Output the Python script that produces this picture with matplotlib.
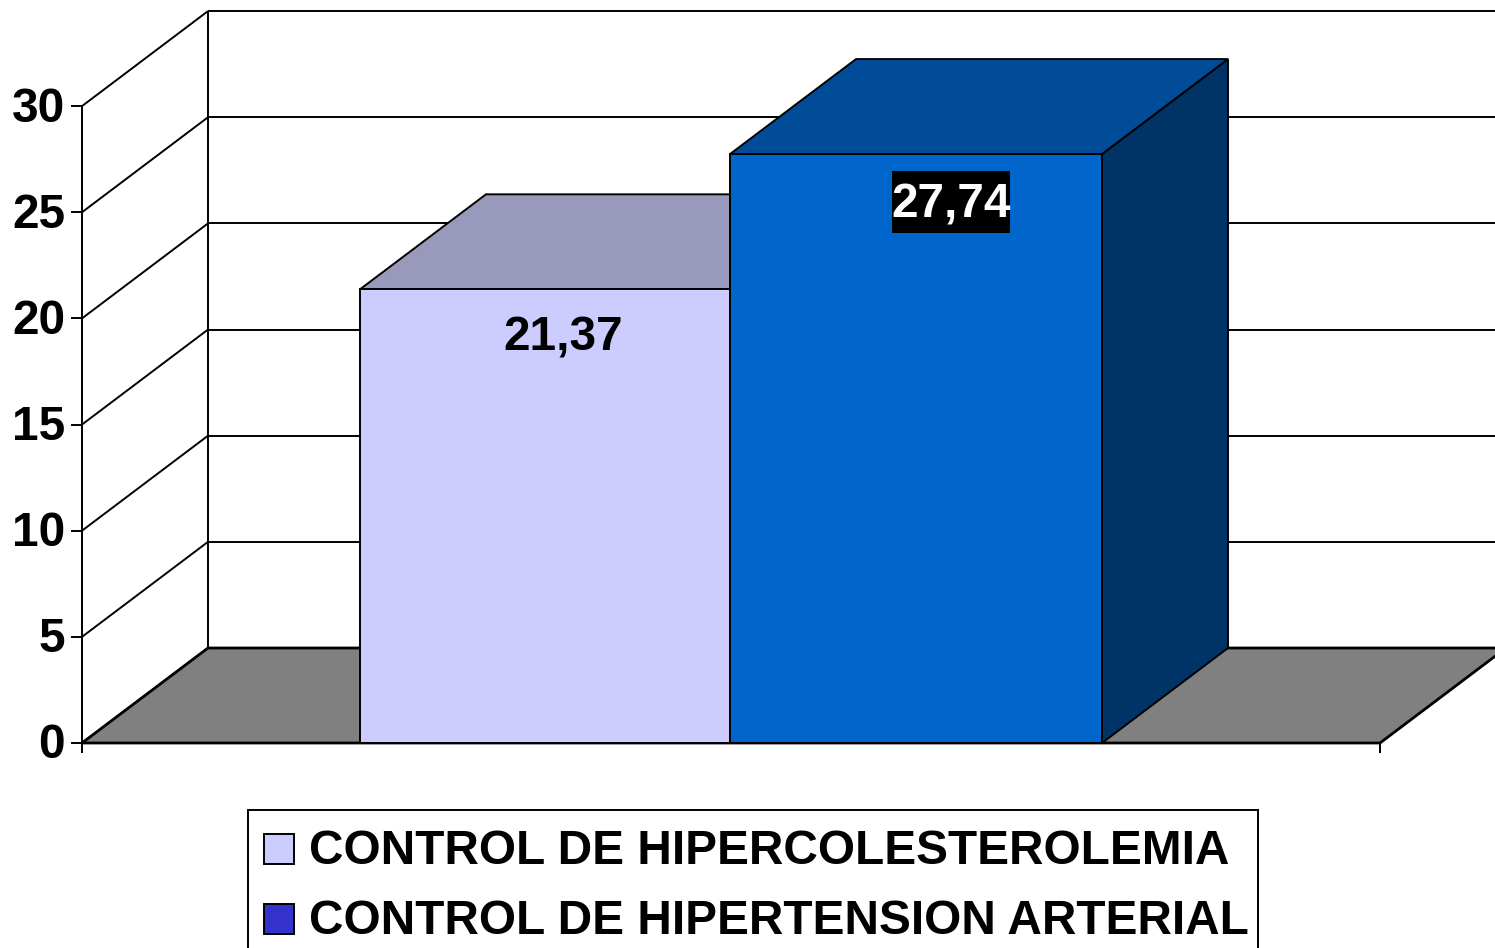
import matplotlib
matplotlib.use("Agg")
import matplotlib.pyplot as plt
from matplotlib.patches import Polygon, Rectangle

plt.rcParams['font.family'] = ['Liberation Sans', 'DejaVu Sans']

series_names = ["CONTROL DE HIPERCOLESTEROLEMIA", "CONTROL DE HIPERTENSION ARTERIAL"]
series_values = [21.37, 27.74]
value_labels = ["21,37", "27,74"]
y_ticks = [0, 5, 10, 15, 20, 25, 30]

W, H = 1495, 948
Y0_PX = 743          # pixel row of value 0
PX_PER_UNIT = 21.23  # pixels per unit on the value axis
DX = 126             # depth of the fake 3d box, x pixels
DY = 95 / PX_PER_UNIT  # same in value units
FONT = 34.4

front_colors = ["#CCCCFF", "#0066CC"]
top_colors = ["#9999BB", "#004C99"]
side_colors = ["#8A8AB0", "#003366"]
legend_colors = ["#CCCCFF", "#3333CC"]
bar_edges = [360, 730, 1102]
LEFT, RIGHT = 82, 1380

fig = plt.figure(figsize=(W / 100, H / 100), dpi=100)
ax = fig.add_axes([0, 0, 1, 1])
ax.set_xlim(0, W)
ax.set_ylim((Y0_PX - H) / PX_PER_UNIT, Y0_PX / PX_PER_UNIT)
ax.axis("off")

line = dict(color="black", lw=1.4, solid_capstyle="butt")
top = y_ticks[-1]

# floor
ax.add_patch(Polygon([(LEFT, 0), (LEFT + DX, DY), (RIGHT + DX, DY), (RIGHT, 0)],
                     fc="#808080", ec="black", lw=2.0, zorder=2.5))

# walls and grid
for t in y_ticks:
    ax.plot([LEFT, LEFT + DX], [t, t + DY], zorder=2, **line)
    ax.plot([LEFT - 11, LEFT], [t, t], zorder=2, **line)
    ax.plot([LEFT + DX, W], [t + DY, t + DY], zorder=2, **line)
    ax.text(LEFT - 17, t + 2 / PX_PER_UNIT, str(t), ha="right", va="center_baseline",
            fontsize=FONT, fontweight="bold", zorder=6)
ax.plot([LEFT, LEFT], [0, top], zorder=2, **line)
ax.plot([LEFT + DX, LEFT + DX], [DY, top + DY], zorder=2, **line)
ax.plot([LEFT, RIGHT], [0, 0], zorder=5, **line)
for x in (LEFT, RIGHT):
    ax.plot([x, x], [0, -10 / PX_PER_UNIT], zorder=2, **line)

# bars, left one first so the right one covers it
for i, v in enumerate(series_values):
    x0, x1 = bar_edges[i], bar_edges[i + 1]
    z = 3 + i * 0.1
    ax.add_patch(Polygon([(x1, 0), (x1 + DX, DY), (x1 + DX, v + DY), (x1, v)],
                         fc=side_colors[i], ec="black", lw=1.4, zorder=z))
    ax.add_patch(Polygon([(x0, v), (x0 + DX, v + DY), (x1 + DX, v + DY), (x1, v)],
                         fc=top_colors[i], ec="black", lw=1.4, zorder=z))
    ax.bar((x0 + x1) / 2, v, width=x1 - x0, color=front_colors[i], edgecolor="black",
           linewidth=1.4, zorder=z)

# value labels
ax.text(563, series_values[0] - 44 / PX_PER_UNIT, value_labels[0], ha="center", va="center_baseline",
        fontsize=FONT, fontweight="bold", color="black", zorder=6)
ax.add_patch(Rectangle((892, series_values[1] - 79 / PX_PER_UNIT), 118, 62 / PX_PER_UNIT,
                       fc="black", ec="none", zorder=5))
ax.text(951, series_values[1] - 46 / PX_PER_UNIT, value_labels[1], ha="center", va="center_baseline",
        fontsize=FONT, fontweight="bold", color="white", zorder=6)

# legend, cut by the bottom of the picture like the original
fig.add_artist(Rectangle((248 / W, -0.01), (1258 - 248) / W, (948 - 810) / H + 0.01,
                         transform=fig.transFigure, fc="white", ec="black", lw=1.4))
for name, color, row in zip(series_names, legend_colors, (849, 919)):
    fig.add_artist(Rectangle((264 / W, 1 - (row + 15) / H), 30 / W, 30 / H,
                             transform=fig.transFigure, fc=color, ec="black", lw=1.4))
    fig.text(309 / W, 1 - (row - 2) / H, name, ha="left", va="center_baseline",
             fontsize=FONT, fontweight="bold")

fig.savefig("out.png", dpi=100)
